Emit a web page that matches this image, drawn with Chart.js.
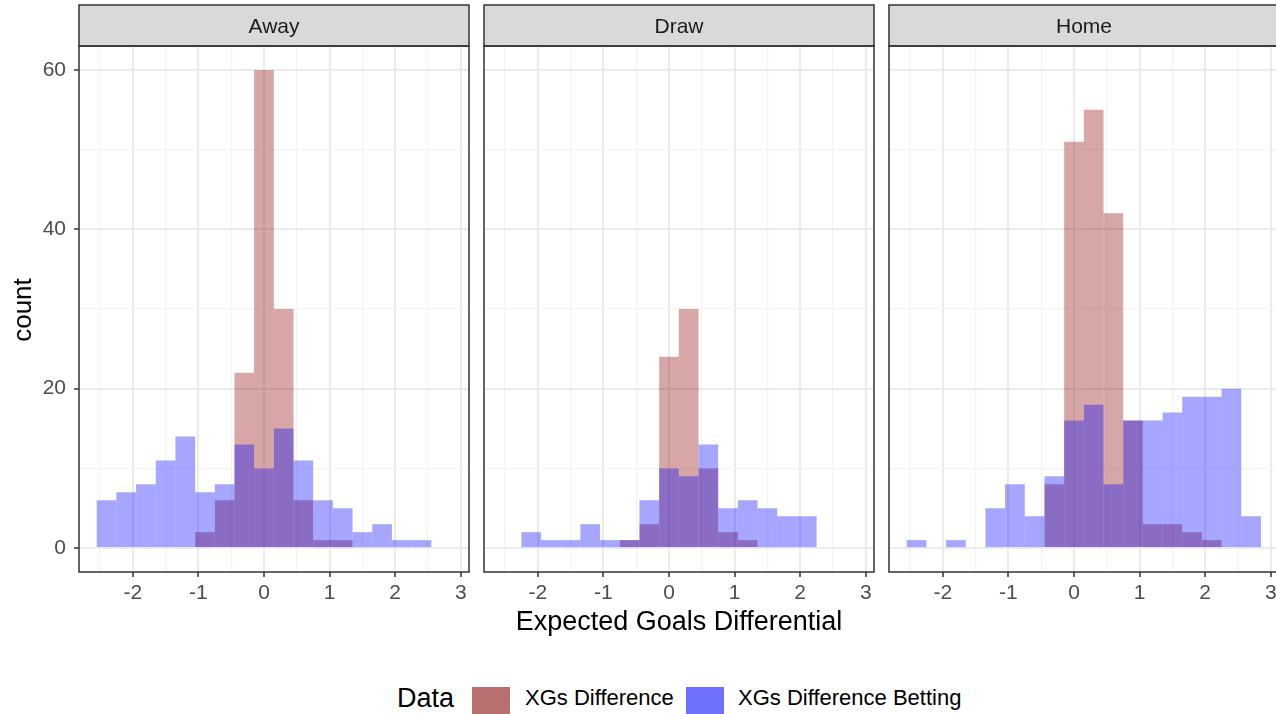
<!DOCTYPE html>
<html><head><meta charset="utf-8">
<script src="https://cdn.jsdelivr.net/npm/chart.js@4.4.1/dist/chart.umd.min.js"></script>
<style>
html,body{margin:0;padding:0;background:#fff;width:1276px;height:714px;overflow:hidden;font-family:"Liberation Sans",Arial,sans-serif;}
#wrap{position:relative;width:1276px;height:714px;overflow:hidden;}
canvas{position:absolute;top:0;}
.strip{position:absolute;top:5px;height:41px;line-height:42px;text-align:center;font-size:21px;color:#1A1A1A;}
.t{position:absolute;white-space:nowrap;color:#000;}
.sw{position:absolute;top:687px;width:38px;height:36px;}
</style></head>
<body><div id="wrap"></div>
<script>
// ---- data ----
const binCenters = [-2.4,-2.1,-1.8,-1.5,-1.2,-0.9,-0.6,-0.3,0,0.3,0.6,0.9,1.2,1.5,1.8,2.1,2.4,2.7];
const panelNames = ['Away','Draw','Home'];
const awayDiff    = [0,0,0,0,0,2,6,22,60,30,6,1,1,0,0,0,0,0];
const awayBetting = [6,7,8,11,14,7,8,13,10,15,11,6,5,2,3,1,1,0];
const drawDiff    = [0,0,0,0,0,0,1,3,24,30,10,2,1,0,0,0,0,0];
const drawBetting = [0,2,1,1,3,1,1,6,10,9,13,5,6,5,4,4,0,0];
const homeDiff    = [0,0,0,0,0,0,0,8,51,55,42,16,3,3,2,1,0,0];
const homeBetting = [1,0,1,0,5,8,4,9,16,18,8,16,16,17,19,19,20,4];
const seriesNames = ['XGs Difference','XGs Difference Betting'];
const xTicks = [-2.5,-2,-1.5,-1,-0.5,0,0.5,1,1.5,2,2.5,3];
const yTicks = [0,10,20,30,40,50,60];
const xTitle = 'Expected Goals Differential';
const yTitle = 'count';
const legendTitle = 'Data';

// ---- layout ----
const diffData = [awayDiff, drawDiff, homeDiff];
const betData = [awayBetting, drawBetting, homeBetting];
const PANEL_LEFT = [79, 484, 889];
const PANEL_W = 390, PANEL_TOP = 46, PANEL_H = 526, AXIS_W = 79, XAXIS_H = 40;
const STRIP_TOP = 5;
const RED = 'rgba(139,0,0,0.35)', BLUE = 'rgba(0,0,255,0.35)';
const wrap = document.getElementById('wrap');

Chart.defaults.font.family = '"Liberation Sans", Arial, sans-serif';

const toPoints = arr => binCenters.map((x, i) => ({ x, y: arr[i] === 0 ? null : arr[i] }));

panelNames.forEach((name, k) => {
  const cv = document.createElement('canvas');
  cv.width = AXIS_W + PANEL_W + 3;
  cv.height = PANEL_TOP + PANEL_H + XAXIS_H + 2;
  cv.style.left = (PANEL_LEFT[k] - AXIS_W) + 'px';
  wrap.appendChild(cv);

  const strip = document.createElement('div');
  strip.className = 'strip';
  strip.style.left = PANEL_LEFT[k] + 'px';
  strip.style.width = PANEL_W + 'px';
  strip.textContent = name;
  wrap.appendChild(strip);

  const framePlugin = {
    id: 'frame' + k,
    beforeDraw(chart) {
      const a = chart.chartArea, c = chart.ctx;
      c.save();
      c.fillStyle = '#D9D9D9';
      c.fillRect(a.left, STRIP_TOP, a.right - a.left, a.top - STRIP_TOP);
      c.restore();
    },
    afterDraw(chart) {
      const a = chart.chartArea, c = chart.ctx;
      c.save();
      c.strokeStyle = '#333333';
      c.lineWidth = 1.5;
      c.strokeRect(a.left, a.top, a.right - a.left, a.bottom - a.top);
      c.strokeRect(a.left, STRIP_TOP, a.right - a.left, a.top - STRIP_TOP);
      c.restore();
    }
  };

  new Chart(cv, {
    type: 'bar',
    data: {
      datasets: [
        { label: seriesNames[0], data: toPoints(diffData[k]), backgroundColor: RED, order: 2 },
        { label: seriesNames[1], data: toPoints(betData[k]), backgroundColor: BLUE, order: 1 }
      ]
    },
    options: {
      responsive: false, animation: false, events: [],
      layout: { padding: { top: PANEL_TOP, right: 3, left: 0, bottom: 2 } },
      datasets: { bar: { grouped: false, barPercentage: 1, categoryPercentage: 1, borderWidth: 0, inflateAmount: 0 } },
      plugins: { legend: { display: false }, tooltip: { enabled: false } },
      scales: {
        x: {
          type: 'linear', min: -2.82, max: 3.125, offset: false,
          afterBuildTicks: s => { s.ticks = xTicks.map(v => ({ value: v })); },
          afterFit: s => { s.height = XAXIS_H; },
          border: { display: false },
          grid: {
            offset: false,
            color: c => Number.isInteger(c.tick.value) ? '#EBEBEB' : '#F3F3F3',
            lineWidth: c => Number.isInteger(c.tick.value) ? 2 : 1.3,
            tickColor: c => Number.isInteger(c.tick.value) ? '#333333' : 'rgba(0,0,0,0)',
            tickWidth: 1.5, tickLength: 5
          },
          ticks: {
            autoSkip: false, maxRotation: 0, padding: 4, color: '#4D4D4D',
            font: { size: 21 },
            callback: v => Number.isInteger(v) ? String(v) : ''
          }
        },
        y: {
          type: 'linear', min: -3, max: 63, position: 'left',
          afterBuildTicks: s => { s.ticks = yTicks.map(v => ({ value: v })); },
          afterFit: s => { s.width = AXIS_W; },
          border: { display: false },
          grid: {
            drawTicks: k === 0,
            color: c => c.tick.value % 20 === 0 ? '#EBEBEB' : '#F3F3F3',
            lineWidth: c => c.tick.value % 20 === 0 ? 2 : 1.3,
            tickColor: c => c.tick.value % 20 === 0 ? '#333333' : 'rgba(0,0,0,0)',
            tickWidth: 1.5, tickLength: 5
          },
          ticks: {
            display: k === 0, padding: 8, color: '#4D4D4D', font: { size: 21 },
            callback: v => v % 20 === 0 ? String(v) : ''
          }
        }
      }
    },
    plugins: [framePlugin]
  });
});

function addText(txt, css) {
  const d = document.createElement('div');
  d.className = 't';
  d.textContent = txt;
  Object.assign(d.style, css);
  wrap.appendChild(d);
  return d;
}
addText(xTitle, { left: '479px', width: '400px', textAlign: 'center', top: '606px', fontSize: '27px', lineHeight: '30px' });
addText(yTitle, { left: '-38px', width: '120px', textAlign: 'center', top: '295px', fontSize: '26px', lineHeight: '30px', transform: 'rotate(-90deg)' });
addText(legendTitle, { left: '397px', top: '683px', fontSize: '27px', lineHeight: '30px' });
const sw1 = document.createElement('div'); sw1.className = 'sw'; sw1.style.left = '472px'; sw1.style.background = '#B87070'; wrap.appendChild(sw1);
addText(seriesNames[0], { left: '525px', top: '686px', fontSize: '22px', lineHeight: '24px' });
const sw2 = document.createElement('div'); sw2.className = 'sw'; sw2.style.left = '686px'; sw2.style.background = '#7070FF'; wrap.appendChild(sw2);
addText(seriesNames[1], { left: '738px', top: '686px', fontSize: '22px', lineHeight: '24px' });
</script>
</body></html>
